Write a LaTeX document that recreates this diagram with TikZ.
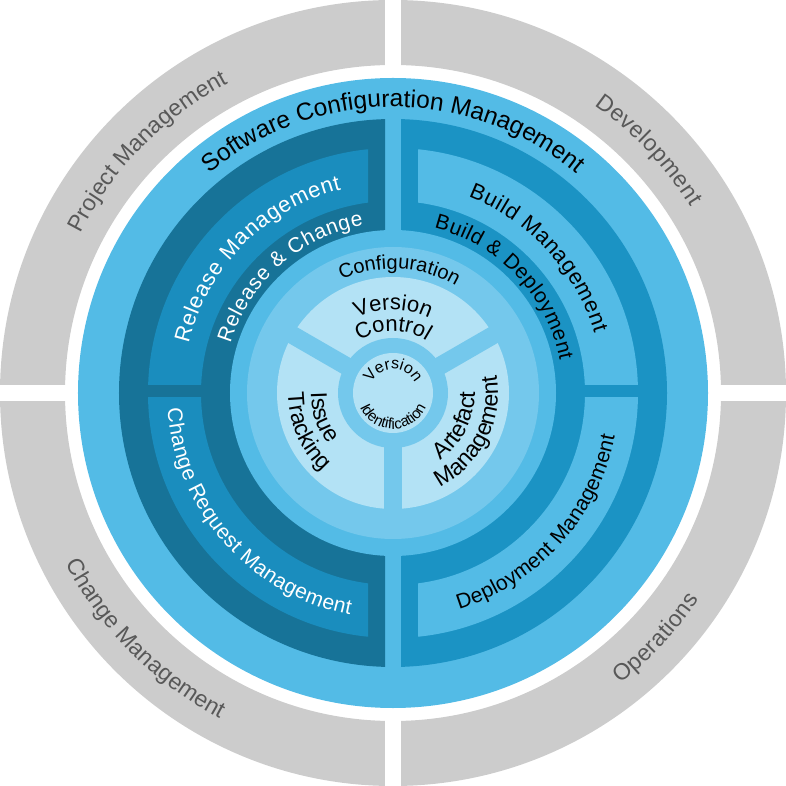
\documentclass[tikz,border=0pt]{standalone}
\usepackage{fontspec}
\setmainfont{Liberation Sans}
\usetikzlibrary{decorations.text}

\definecolor{ringgray}{HTML}{CCCCCC}
\definecolor{graytext}{HTML}{585858}
\definecolor{scmblue}{HTML}{53BBE6}
\definecolor{leftdark}{HTML}{177398}
\definecolor{leftbox}{HTML}{1A8DBE}
\definecolor{rightdark}{HTML}{1B93C4}
\definecolor{configblue}{HTML}{74C8EC}
\definecolor{corepale}{HTML}{B3E2F5}

\newcommand\fsz[1]{\fontsize{#1}{#1}\selectfont}

\begin{document}
\begin{tikzpicture}[
  x=1pt, y=1pt,
  curved/.style={decorate, decoration={text along path, text align={fit to path}, text color=#1}},
  centred/.style={decorate, decoration={text along path, text align=center, text color=#1}}
]
\useasboundingbox (-393,-393) rectangle (393,393);

% outer grey ring and its gaps
\fill[ringgray, even odd rule] (0,0) circle[radius=393] (0,0) circle[radius=328];
\fill[white] (-8,-393) rectangle (8,393);
\fill[white] (-393,-8) rectangle (393,8);

% software configuration management disc
\fill[scmblue] (0,0) circle[radius=315];
\begin{scope}
  \clip (-400,-400) rectangle (-8,400);
  \fill[leftdark] (0,0) circle[radius=274];
\end{scope}
\begin{scope}
  \clip (8,-400) rectangle (400,400);
  \fill[rightdark] (0,0) circle[radius=274];
\end{scope}

% management boxes
\begin{scope}
  \clip (-400,8) rectangle (-25,400);
  \fill[leftbox, even odd rule] (0,0) circle[radius=245] (0,0) circle[radius=192];
\end{scope}
\begin{scope}
  \clip (-400,-5) rectangle (-25,-400);
  \fill[leftbox, even odd rule] (0,0) circle[radius=245] (0,0) circle[radius=192];
\end{scope}
\begin{scope}
  \clip (25,8) rectangle (400,400);
  \fill[scmblue, even odd rule] (0,0) circle[radius=245] (0,0) circle[radius=192];
\end{scope}
\begin{scope}
  \clip (25,-5) rectangle (400,-400);
  \fill[scmblue, even odd rule] (0,0) circle[radius=245] (0,0) circle[radius=192];
\end{scope}

% configuration core
\fill[scmblue] (0,0) circle[radius=163];
\fill[configblue] (0,0) circle[radius=146];
\fill[corepale] (0,0) circle[radius=116];
\foreach \a in {30,150,270}
  \draw[configblue, line width=18] (0,0) -- (\a:118);
\fill[configblue] (0,0) circle[radius=55];
\fill[corepale] (0,0) circle[radius=40];

% grey ring labels
\path[curved=graytext, decoration={text={|\fsz{23}|Project Management}}]
  (153:351) arc[start angle=153, end angle=118, radius=351];
\path[curved=graytext, decoration={text={|\fsz{23}|Development}}]
  (55:351) arc[start angle=55, end angle=32, radius=351];
\path[curved=graytext, decoration={text={|\fsz{23}|Change Management}}]
  (207.5:369) arc[start angle=207.5, end angle=242, radius=369];
\path[curved=graytext, decoration={text={|\fsz{23}|Operations}}]
  (-52:369) arc[start angle=-52, end angle=-34, radius=369];

% blue ring labels
\path[centred=black, decoration={text={|\fsz{24.5}|Software Configuration Management}}]
  (150:286) arc[start angle=150, end angle=30, radius=286];
\path[curved=white, decoration={text={|\fsz{22}|Release Management}}]
  (166.5:210) arc[start angle=166.5, end angle=104.3, radius=210];
\path[curved=white, decoration={text={|\fsz{21}|Release {\&} Change}}]
  (163:170) arc[start angle=163, end angle=100, radius=170];
\path[curved=black, decoration={text={|\fsz{22}|Build Management}}]
  (69:210) arc[start angle=69, end angle=16.5, radius=210];
\path[curved=black, decoration={text={|\fsz{21}|Build {\&} Deployment}}]
  (76:170) arc[start angle=76, end angle=11, radius=170];
\path[curved=white, decoration={text={|\fsz{21}|Change Request Management}}]
  (184:226) arc[start angle=184, end angle=259, radius=226];
\path[curved=black, decoration={text={|\fsz{21}|Deployment Management}}]
  (-73:226) arc[start angle=-73, end angle=-11, radius=226];

% core labels
\path[curved=black, decoration={text={|\fsz{20}|Configuration}}]
  (114.5:124) arc[start angle=114.5, end angle=61, radius=124];
\path[centred=black, decoration={text={|\fsz{22}|Version}}]
  (150:83) arc[start angle=150, end angle=30, radius=83];
\path[centred=black, decoration={text={|\fsz{22}|Control}}]
  (150:62) arc[start angle=150, end angle=30, radius=62];
\path[centred=black, decoration={text={|\fsz{23}|Issue}}]
  (139:82) arc[start angle=139, end angle=259, radius=82];
\path[centred=black, decoration={text={|\fsz{23}|Tracking}}]
  (144:105) arc[start angle=144, end angle=264, radius=105];
\path[centred=black, decoration={text={|\fsz{23}|Artefact}}]
  (-87:82) arc[start angle=-87, end angle=33, radius=82];
\path[centred=black, decoration={text={|\fsz{23}|Management}}]
  (-87:105) arc[start angle=-87, end angle=33, radius=105];
\path[centred=black, decoration={text={|\fsz{16}|Version}}]
  (170:24) arc[start angle=170, end angle=10, radius=24];
\path[centred=black, decoration={text={|\fsz{15}|Identification}}]
  (185:36) arc[start angle=185, end angle=355, radius=36];
\end{tikzpicture}
\end{document}
